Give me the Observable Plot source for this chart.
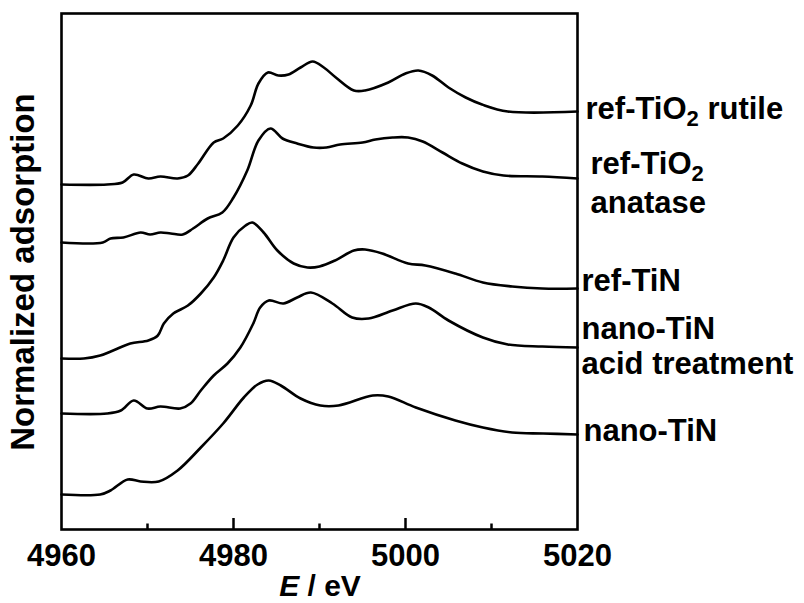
<!DOCTYPE html>
<html><head><meta charset="utf-8">
<script src="https://cdn.jsdelivr.net/npm/d3@7"></script>
<script src="https://cdn.jsdelivr.net/npm/@observablehq/plot@0.6"></script>
<style>body{margin:0;background:#fff}</style>
</head><body><div id="chart"></div>
<script>
// Energy (eV) and stacked normalized absorption (arbitrary offset units)
const rutile = [[4960,3.45],[4965.3,3.45],[4967.1,3.47],[4968.4,3.55],[4970.1,3.51],[4971.5,3.53],[4973.5,3.51],[4974.7,3.54],[4975.9,3.66],[4977.7,3.87],[4978.8,3.91],[4980.5,4.04],[4982.0,4.24],[4982.9,4.46],[4984.0,4.57],[4985.2,4.54],[4986.4,4.55],[4987.8,4.62],[4989.2,4.68],[4990.5,4.62],[4991.9,4.52],[4994.0,4.39],[4995.3,4.39],[4998.0,4.47],[5000.0,4.56],[5001.5,4.59],[5003.1,4.54],[5005.0,4.42],[5007.0,4.32],[5008.9,4.25],[5011.9,4.18],[5020,4.18]];
const anatase = [[4960,2.87],[4964.8,2.87],[4965.7,2.91],[4967.2,2.92],[4969.2,2.97],[4970.3,2.95],[4971.5,2.97],[4972.7,2.96],[4974.1,2.95],[4975.3,3.01],[4977.0,3.11],[4978.7,3.17],[4980.0,3.32],[4981.6,3.59],[4982.9,3.89],[4984.3,4.01],[4985.7,3.91],[4987.4,3.86],[4989.3,3.82],[4990.8,3.82],[4992.4,3.85],[4995.0,3.87],[4996.5,3.90],[4998.5,3.92],[5000.3,3.92],[5002.0,3.88],[5004.3,3.77],[5006.6,3.66],[5009.0,3.58],[5011.4,3.54],[5015.9,3.53],[5020,3.51]];
const refTiN = [[4960,1.71],[4962.6,1.71],[4964.5,1.74],[4966.0,1.79],[4968.0,1.86],[4970.1,1.89],[4971.2,1.94],[4971.9,2.06],[4973.0,2.16],[4974.7,2.24],[4976.2,2.36],[4977.7,2.52],[4978.8,2.69],[4980.0,2.92],[4981.4,3.04],[4982.2,3.07],[4983.5,2.97],[4985.1,2.79],[4987.0,2.66],[4988.6,2.62],[4990.0,2.63],[4991.8,2.69],[4994.0,2.79],[4995.3,2.80],[4997.3,2.76],[5000.3,2.66],[5002.3,2.64],[5005.8,2.56],[5009.0,2.47],[5012.4,2.43],[5015.9,2.41],[5020,2.41]];
const nanoAcid = [[4960,1.16],[4965.3,1.16],[4966.9,1.19],[4968.4,1.29],[4970.0,1.21],[4971.5,1.23],[4973.8,1.21],[4975.0,1.26],[4976.2,1.39],[4977.7,1.54],[4979.3,1.66],[4980.8,1.82],[4982.3,2.06],[4983.1,2.22],[4984.1,2.29],[4985.8,2.26],[4987.4,2.32],[4989.0,2.37],[4991.5,2.26],[4993.8,2.12],[4995.7,2.11],[4998.5,2.19],[5001.2,2.26],[5002.7,2.22],[5005.0,2.09],[5009.0,1.92],[5011.9,1.85],[5015.9,1.83],[5020,1.82]];
const nanoTiN = [[4960,0.35],[4964.5,0.35],[4965.7,0.39],[4967.7,0.50],[4969.2,0.48],[4971.3,0.48],[4973.5,0.59],[4976.2,0.82],[4978.8,1.06],[4981.2,1.32],[4982.8,1.45],[4984.1,1.49],[4985.5,1.44],[4987.8,1.31],[4990.1,1.24],[4992.2,1.24],[4996.2,1.34],[4998.0,1.33],[5001.2,1.22],[5005.8,1.09],[5009.0,1.02],[5012.4,0.97],[5016.0,0.96],[5020,0.95]];

const seriesNames = ["ref-TiO2 rutile","ref-TiO2 anatase","ref-TiN","nano-TiN acid treatment","nano-TiN"];
const seriesData = [rutile, anatase, refTiN, nanoAcid, nanoTiN];

const xTickValues = [4960, 4980, 5000, 5020];
const majorTicks = [4980, 5000];
const minorTicks = [4970, 4990, 5010];

// label lines (text, baseline level in y units, horizontal offset)
const labelText = ["ref-TiO2 rutile","ref-TiO2","anatase","ref-TiN","nano-TiN","acid treatment","nano-TiN"];
const labelLevel = [4.11, 3.56, 3.17, 2.39, 1.91, 1.56, 0.89];
const labelDx = [8, 13, 13, 4, 4, 4, 6];

const rows = [];
seriesData.forEach((s, i) => s.forEach(([E, A]) => rows.push({series: seriesNames[i], E, A})));

const FONT = "'Liberation Sans', Arial, Helvetica, sans-serif";
const yMin = 0, yMax = 5.16;

const labelMarks = labelText.map((t, i) =>
  Plot.text([{t, y: labelLevel[i]}], {x: () => 5020, y: "y", text: "t", dx: labelDx[i],
    textAnchor: "start", lineAnchor: "bottom", fontSize: 31, fontWeight: "bold", fill: "#000"}));

const chart = Plot.plot({
  width: 804, height: 603,
  marginLeft: 61, marginRight: 227, marginTop: 13, marginBottom: 74,
  style: {fontFamily: FONT, background: "#fff", color: "#000", overflow: "visible"},
  x: {domain: [4960, 5020]},
  y: {domain: [yMin, yMax], axis: null},
  marks: [
    Plot.line(rows, {x: "E", y: "A", z: "series", stroke: "#000", strokeWidth: 2.6, strokeLinejoin: "round", curve: "catmull-rom"}),
    Plot.ruleX(majorTicks, {x: d => d, y1: yMin, y2: yMin + 0.11, stroke: "#000", strokeWidth: 2.5}),
    Plot.ruleX(minorTicks, {x: d => d, y1: yMin, y2: yMin + 0.055, stroke: "#000", strokeWidth: 2.5}),
    Plot.axisX(xTickValues, {tickSize: 0, tickPadding: 14, fontSize: 31, fontWeight: "bold", label: null, tickFormat: d => String(d)}),
    Plot.frame({stroke: "#000", strokeWidth: 2.6}),
    ...labelMarks
  ]
});

// subscripts for TiO2
d3.select(chart).selectAll("text").each(function() {
  const t = this.textContent;
  if (t.includes("TiO2")) {
    const parts = t.split("TiO2");
    const sel = d3.select(this);
    sel.text(null);
    sel.append("tspan").text(parts[0] + "TiO");
    sel.append("tspan").attr("font-size", 22).attr("dy", 7).text("2");
    if (parts[1]) sel.append("tspan").attr("dy", -7).text(parts[1]);
  }
});

const svg = d3.select(chart);
const xt = svg.append("text").attr("x", 320).attr("y", 596).attr("text-anchor", "middle")
  .attr("font-size", 30).attr("font-weight", "bold").attr("font-family", FONT).attr("fill", "#000");
xt.append("tspan").attr("font-style", "italic").text("E");
xt.append("tspan").text(" / eV");

svg.append("text").attr("transform", "translate(34,272) rotate(-90)").attr("text-anchor", "middle")
  .attr("font-size", 33).attr("font-weight", "bold").attr("font-family", FONT).attr("fill", "#000")
  .text("Normalized adsorption");

document.getElementById("chart").appendChild(chart);
</script>
</body></html>
